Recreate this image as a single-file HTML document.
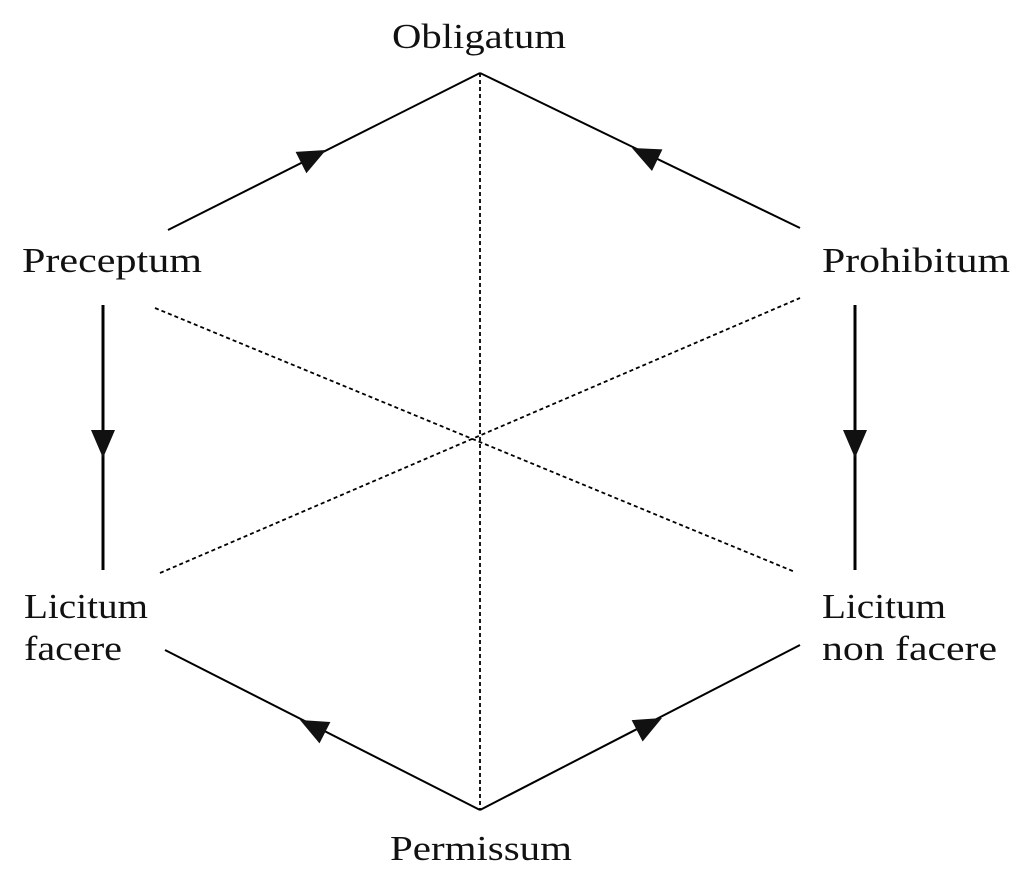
<!DOCTYPE html>
<html><head><meta charset="utf-8"><style>
html,body{margin:0;padding:0;background:#fff;}
svg{display:block;}
text{font-family:"Liberation Serif",serif;font-size:35px;fill:#111;}
</style></head><body>
<svg width="1031" height="882" viewBox="0 0 1031 882">
<g stroke="#000" stroke-width="2" fill="none">
<line x1="168" y1="230" x2="480" y2="73"/>
<line x1="480" y1="73" x2="800" y2="228"/>
<line x1="103" y1="305" x2="103" y2="570" stroke-width="3"/>
<line x1="855" y1="305" x2="855" y2="570" stroke-width="3"/>
<line x1="165" y1="650" x2="480" y2="810"/>
<line x1="480" y1="810" x2="800" y2="645"/>
</g>
<g stroke="#000" stroke-width="1.8" stroke-dasharray="4,3" fill="none">
<line x1="480" y1="73" x2="480" y2="810"/>
<line x1="155" y1="308" x2="795" y2="572"/>
<line x1="160" y1="573" x2="800" y2="298"/>
</g>
<g fill="#111">
<polygon points="0,0 -28,-12 -28,12" transform="translate(326,150) rotate(-26.7)"/>
<polygon points="0,0 -28,-12 -28,12" transform="translate(632,148) rotate(205.8)"/>
<polygon points="0,0 -28,-12 -28,12" transform="translate(103,458) rotate(90)"/>
<polygon points="0,0 -28,-12 -28,12" transform="translate(855,458) rotate(90)"/>
<polygon points="0,0 -28,-12 -28,12" transform="translate(300,720) rotate(207)"/>
<polygon points="0,0 -28,-12 -28,12" transform="translate(662,718) rotate(-27.3)"/>
</g>
<text x="392" y="48" textLength="174" lengthAdjust="spacingAndGlyphs">Obligatum</text>
<text x="22" y="272" textLength="180" lengthAdjust="spacingAndGlyphs">Preceptum</text>
<text x="822" y="272" textLength="188" lengthAdjust="spacingAndGlyphs">Prohibitum</text>
<text x="24" y="618" textLength="124" lengthAdjust="spacingAndGlyphs">Licitum</text>
<text x="24" y="660" textLength="98" lengthAdjust="spacingAndGlyphs">facere</text>
<text x="822" y="618" textLength="124" lengthAdjust="spacingAndGlyphs">Licitum</text>
<text x="822" y="660" textLength="175" lengthAdjust="spacingAndGlyphs">non facere</text>
<text x="390" y="860" textLength="182" lengthAdjust="spacingAndGlyphs">Permissum</text>
</svg>
</body></html>
